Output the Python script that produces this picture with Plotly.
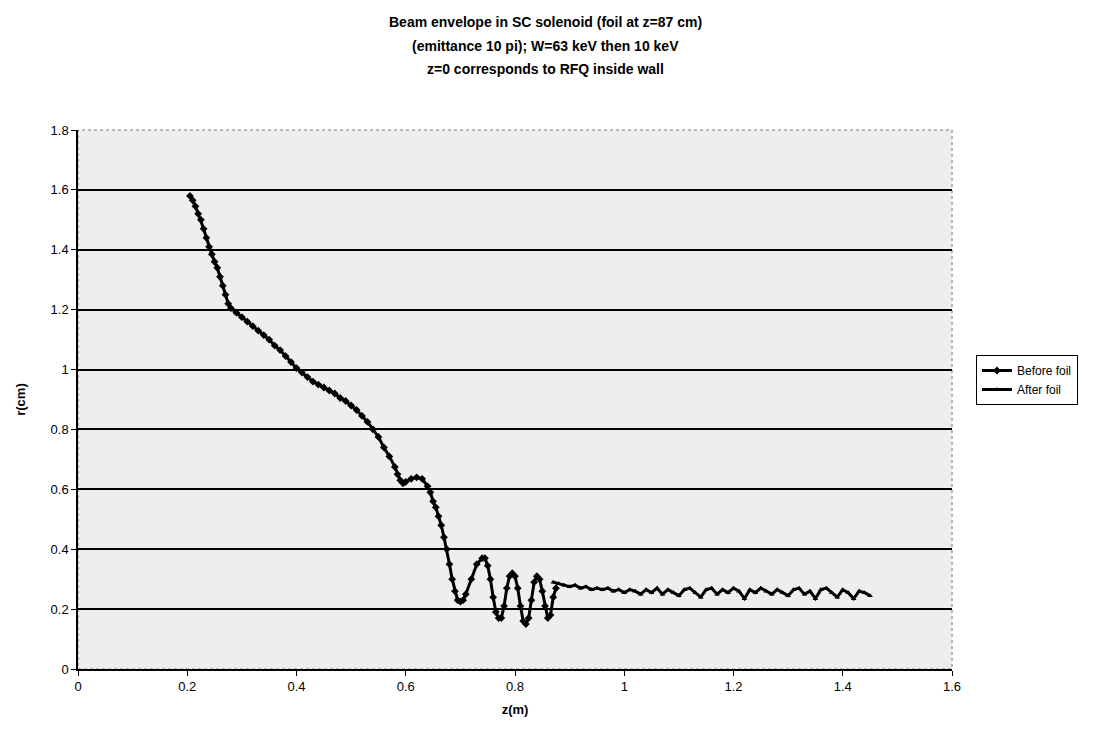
import plotly.graph_objects as go

# Before foil envelope (z in m, r in cm)
z_before = [0.205, 0.21, 0.215, 0.22, 0.225, 0.23, 0.235, 0.24, 0.245, 0.25, 0.255, 0.26, 0.265, 0.27,
            0.275, 0.28, 0.29, 0.30, 0.31, 0.32, 0.33, 0.34, 0.35, 0.36, 0.37, 0.38, 0.39, 0.40, 0.41,
            0.42, 0.43, 0.44, 0.45, 0.46, 0.47, 0.48, 0.49, 0.50, 0.51, 0.52, 0.53, 0.54, 0.55, 0.56,
            0.57, 0.58, 0.585, 0.59, 0.595, 0.60, 0.61, 0.62, 0.63, 0.64, 0.645, 0.65, 0.655, 0.66,
            0.665, 0.67, 0.675, 0.68, 0.685, 0.69, 0.695, 0.70, 0.705, 0.71, 0.72, 0.73, 0.74, 0.745,
            0.75, 0.755, 0.76, 0.765, 0.77, 0.775, 0.78, 0.785, 0.79, 0.795, 0.80, 0.805, 0.81, 0.815,
            0.82, 0.825, 0.83, 0.835, 0.84, 0.845, 0.85, 0.855, 0.86, 0.865, 0.87, 0.875]
r_before = [1.58, 1.565, 1.545, 1.52, 1.50, 1.47, 1.44, 1.41, 1.385, 1.36, 1.34, 1.31, 1.28, 1.25,
            1.22, 1.205, 1.19, 1.175, 1.16, 1.145, 1.13, 1.115, 1.10, 1.08, 1.065, 1.045, 1.025, 1.005, 0.99,
            0.975, 0.96, 0.95, 0.94, 0.93, 0.92, 0.905, 0.895, 0.88, 0.865, 0.845, 0.825, 0.80, 0.775, 0.74,
            0.71, 0.675, 0.65, 0.63, 0.62, 0.625, 0.635, 0.64, 0.635, 0.61, 0.59, 0.56, 0.54, 0.51,
            0.48, 0.44, 0.40, 0.35, 0.30, 0.26, 0.23, 0.225, 0.23, 0.25, 0.30, 0.35, 0.37, 0.37,
            0.345, 0.30, 0.24, 0.19, 0.17, 0.17, 0.21, 0.27, 0.31, 0.32, 0.31, 0.27, 0.21, 0.16,
            0.15, 0.17, 0.23, 0.29, 0.31, 0.30, 0.26, 0.21, 0.17, 0.18, 0.24, 0.27]

# After foil envelope
z_after = [0.87, 0.88, 0.89, 0.90, 0.91, 0.92, 0.93, 0.94, 0.95, 0.96, 0.97, 0.98, 0.99, 1.00,
           1.01, 1.02, 1.03, 1.04, 1.05, 1.06, 1.07, 1.08, 1.09, 1.10, 1.11, 1.12, 1.13, 1.14,
           1.15, 1.16, 1.17, 1.18, 1.19, 1.20, 1.21, 1.22, 1.23, 1.24, 1.25, 1.26, 1.27, 1.28,
           1.29, 1.30, 1.31, 1.32, 1.33, 1.34, 1.35, 1.36, 1.37, 1.38, 1.39, 1.40, 1.41, 1.42,
           1.43, 1.44, 1.45]
r_after = [0.29, 0.285, 0.28, 0.275, 0.28, 0.27, 0.275, 0.265, 0.27, 0.265, 0.27, 0.26, 0.265, 0.255,
           0.265, 0.26, 0.25, 0.265, 0.255, 0.27, 0.25, 0.265, 0.255, 0.245, 0.265, 0.27, 0.255, 0.24,
           0.265, 0.27, 0.25, 0.265, 0.255, 0.27, 0.26, 0.235, 0.265, 0.255, 0.27, 0.26, 0.25, 0.265,
           0.255, 0.245, 0.265, 0.27, 0.25, 0.26, 0.235, 0.265, 0.27, 0.255, 0.24, 0.265, 0.255, 0.235,
           0.26, 0.255, 0.245]

title_lines = ["Beam envelope in SC solenoid (foil at z=87 cm)",
               "(emittance 10 pi); W=63 keV then 10 keV",
               "z=0 corresponds to RFQ inside wall"]

FONT = "Liberation Sans, Arial, sans-serif"

fig = go.Figure()
fig.add_trace(go.Scatter(x=z_before, y=r_before, mode="lines+markers", name="Before foil",
                         line=dict(color="black", width=3),
                         marker=dict(symbol="diamond", size=6, color="black")))
fig.add_trace(go.Scatter(x=z_after, y=r_after, mode="lines+markers", name="After foil",
                         line=dict(color="black", width=3),
                         marker=dict(symbol="triangle-up", size=5, color="black")))

# dotted frame on top/right
fig.add_shape(type="rect", xref="paper", yref="paper", x0=0, y0=0, x1=1, y1=1,
              line=dict(color="#777777", width=1, dash="dot"), layer="below")

title_y = [22, 46, 69]
for t, yy in zip(title_lines, title_y):
    fig.add_annotation(text="<b>%s</b>" % t, xref="paper", yref="paper",
                       x=(545 - 78) / 874, y=(669 - yy) / 539, showarrow=False,
                       xanchor="center", yanchor="middle",
                       font=dict(family=FONT, size=14, color="black"))

fig.update_layout(
    width=1102, height=733,
    margin=dict(l=78, r=150, t=130, b=64, pad=0),
    paper_bgcolor="white", plot_bgcolor="#eeeeee",
    font=dict(family=FONT, size=13, color="black"),
    showlegend=True,
    legend=dict(x=(976 - 78) / 874, y=(669 - 380) / 539, xanchor="left", yanchor="middle",
                bgcolor="white", bordercolor="black", borderwidth=1,
                font=dict(family=FONT, size=12, color="black"),
                itemwidth=30, tracegroupgap=0),
    xaxis=dict(range=[0, 1.6], dtick=0.2, tick0=0, showgrid=False, zeroline=False,
               showline=True, linecolor="black", linewidth=1.5,
               ticks="outside", ticklen=5, tickcolor="black",
               tickfont=dict(family=FONT, size=13),
               title=dict(text="<b>z(m)</b>", font=dict(family=FONT, size=13), standoff=12)),
    yaxis=dict(range=[0, 1.8], dtick=0.2, tick0=0, showgrid=True, gridcolor="black", gridwidth=1.5,
               zeroline=False, showline=True, linecolor="black", linewidth=1.5,
               ticks="outside", ticklen=5, tickcolor="black",
               tickfont=dict(family=FONT, size=13),
               title=dict(text="<b>r(cm)</b>", font=dict(family=FONT, size=13), standoff=22)),
)

fig.write_html("out.html")
